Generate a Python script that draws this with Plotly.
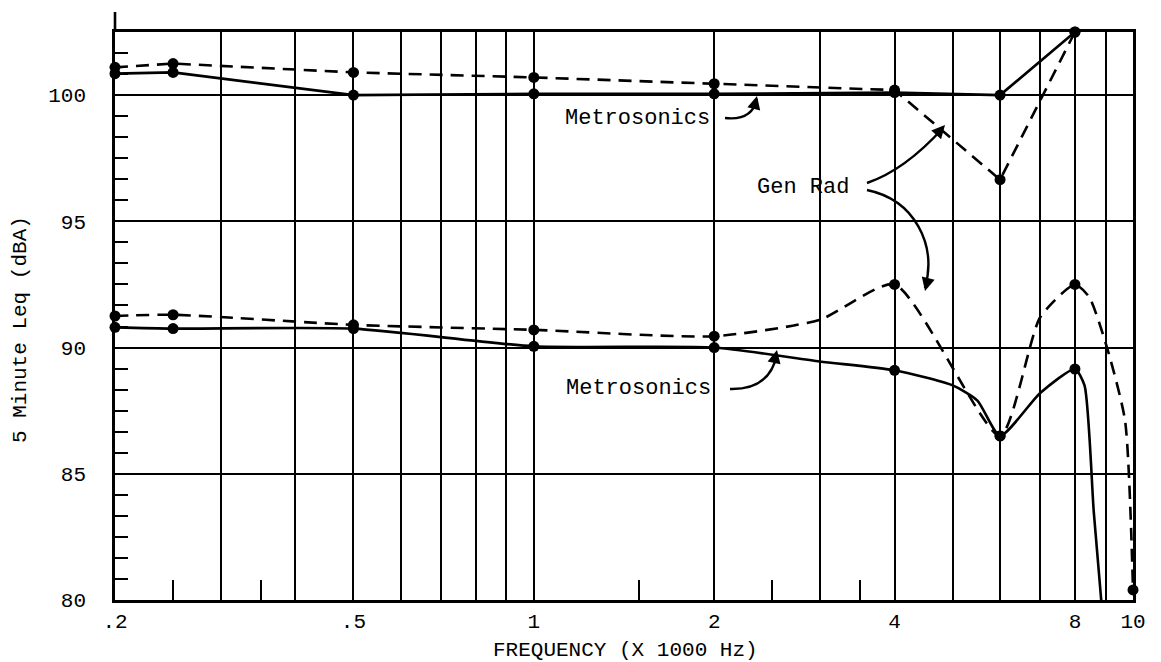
import numpy as np
import plotly.graph_objects as go

# ---------------- data (frequency in kHz, level in dBA) ----------------
metro_hi_f = [0.2, 0.25, 0.5, 1, 2, 4, 6, 8]
metro_hi_l = [100.85, 100.9, 100.0, 100.05, 100.05, 100.1, 100.0, 102.5]

genrad_hi_f = [0.2, 0.25, 0.5, 1, 2, 4, 6, 8]
genrad_hi_l = [101.1, 101.25, 100.9, 100.7, 100.45, 100.2, 96.65, 102.5]

metro_lo_f = [0.2, 0.25, 0.5, 1, 2, 3, 4, 5, 5.5, 6, 7, 8, 8.3, 8.6, 8.85]
metro_lo_l = [90.8, 90.75, 90.75, 90.05, 90.0, 89.45, 89.1, 88.5, 87.9, 86.5, 88.2, 89.15, 88.5, 83.5, 80.0]
metro_lo_pts = [1, 1, 1, 1, 1, 0, 1, 0, 0, 1, 0, 1, 0, 0, 0]

genrad_lo_f = [0.2, 0.25, 0.5, 1, 2, 3, 4, 6, 7, 8, 8.45, 9.05, 9.7, 10]
genrad_lo_l = [91.25, 91.3, 90.9, 90.7, 90.45, 91.1, 92.5, 86.5, 91.2, 92.5, 92.0, 90.0, 87.1, 80.4]
genrad_lo_pts = [1, 1, 1, 1, 1, 0, 1, 1, 0, 1, 0, 0, 0, 1]

x_grid = [0.2, 0.3, 0.4, 0.5, 0.6, 0.7, 0.8, 0.9, 1, 2, 3, 4, 5, 6, 7, 8, 9, 10]
x_labels = {0.2: ".2", 0.5: ".5", 1: "1", 2: "2", 4: "4", 8: "8", 10: "10"}
x_minor = [0.25, 0.35, 1.5, 2.5, 3.5]
y_ticks = [80, 85, 90, 95, 100]

# ---------------- layout geometry ----------------
W, H = 1161, 662
L, R, T, B = 115, 28, 32, 62
PW, PH = W - L - R, H - T - B
FONT = "Liberation Mono, Courier New, monospace"


def px(xp, yp):
    """pixel position -> paper coordinates"""
    return (xp - L) / PW, (H - B - yp) / PH


fig = go.Figure()


def add_series(f, l, pts, dash, shape="linear"):
    fig.add_trace(go.Scatter(
        x=f, y=l, mode="lines+markers",
        line=dict(color="black", width=2.6, dash=dash, shape=shape, smoothing=0.6),
        marker=dict(color="black", size=[11 * p for p in pts],
                    line=dict(width=0, color="black"), opacity=1),
        cliponaxis=False, showlegend=False, hoverinfo="skip"))


add_series(metro_hi_f, metro_hi_l, [1] * len(metro_hi_f), "solid")
add_series(genrad_hi_f, genrad_hi_l, [1] * len(genrad_hi_f), "13px,8px")
add_series(metro_lo_f, metro_lo_l, metro_lo_pts, "solid", "spline")
add_series(genrad_lo_f, genrad_lo_l, genrad_lo_pts, "13px,8px", "spline")

fig.update_xaxes(
    type="log", range=[np.log10(0.2), np.log10(10)],
    tickmode="array", tickvals=x_grid,
    ticktext=[x_labels.get(v, "") for v in x_grid],
    showgrid=True, gridcolor="black", gridwidth=1.6,
    showline=True, linecolor="black", linewidth=2.6, mirror=True,
    ticks="", ticklabelstandoff=0,
    tickfont=dict(family=FONT, size=21, color="black"),
    minor=dict(tickmode="array", tickvals=x_minor, ticks="inside",
               ticklen=20, tickwidth=2, tickcolor="black", showgrid=False),
    zeroline=False,
)

y_minor = [v for v in np.arange(80, 102.5, 5 / 6) if abs(v / 5 - round(v / 5)) > 1e-6]
fig.update_yaxes(
    range=[80, 102.5], tickmode="array", tickvals=y_ticks,
    showgrid=True, gridcolor="black", gridwidth=1.6,
    showline=True, linecolor="black", linewidth=2.6, mirror=True,
    ticks="", ticklabelstandoff=22,
    tickfont=dict(family=FONT, size=21, color="black"),
    minor=dict(tickmode="array", tickvals=y_minor, ticks="inside",
               ticklen=13, tickwidth=2, tickcolor="black", showgrid=False),
    zeroline=False,
)

shapes = []
# left axis extends above the frame
x0, y0 = px(115, 32)
x1, y1 = px(115, 12)
shapes.append(dict(type="line", xref="paper", yref="paper", x0=x0, y0=y0, x1=x1, y1=y1,
                   line=dict(color="black", width=2.6)))


def curve(points, cmd="Q"):
    pp = [px(*p) for p in points]
    d = "M {:.5f},{:.5f} {} ".format(pp[0][0], pp[0][1], cmd)
    d += " ".join("{:.5f},{:.5f}".format(a, b) for a, b in pp[1:])
    shapes.append(dict(type="path", xref="paper", yref="paper", path=d,
                       line=dict(color="black", width=2.4)))


curve([(725, 118), (752, 121), (757, 99)])
curve([(730, 389), (770, 390), (777, 354)])
curve([(867, 183), (905, 170), (943, 128)])
curve([(867, 190), (915, 200), (937, 245), (925, 288)], cmd="C")

annotations = []


def arrowhead(tip, ax, ay):
    x, y = px(*tip)
    annotations.append(dict(xref="paper", yref="paper", x=x, y=y, text="",
                            showarrow=True, arrowhead=2, arrowsize=1.1,
                            arrowwidth=2.4, arrowcolor="black", ax=ax, ay=ay))


arrowhead((757, 96), -3, 12)
arrowhead((777, 350), -3, 13)
arrowhead((945, 125), -9, 10)
arrowhead((925, 291), 3, -12)


def text(t, xp, yp, size=22, angle=0):
    x, y = px(xp, yp)
    annotations.append(dict(xref="paper", yref="paper", x=x, y=y, text=t,
                            showarrow=False, xanchor="center", yanchor="middle",
                            textangle=angle,
                            font=dict(family=FONT, size=size, color="black")))


text("Metrosonics", 637, 118)
text("Metrosonics", 638, 388)
text("Gen Rad", 803, 188)
text("FREQUENCY (X 1000 Hz)", 625, 650, size=21)
text("5 Minute Leq (dBA)", 20, 330, size=21, angle=-90)

fig.update_layout(
    width=W, height=H, margin=dict(l=L, r=R, t=T, b=B),
    paper_bgcolor="white", plot_bgcolor="white",
    shapes=shapes, annotations=annotations,
    font=dict(family=FONT, color="black"),
)

fig.write_html("out.html")
